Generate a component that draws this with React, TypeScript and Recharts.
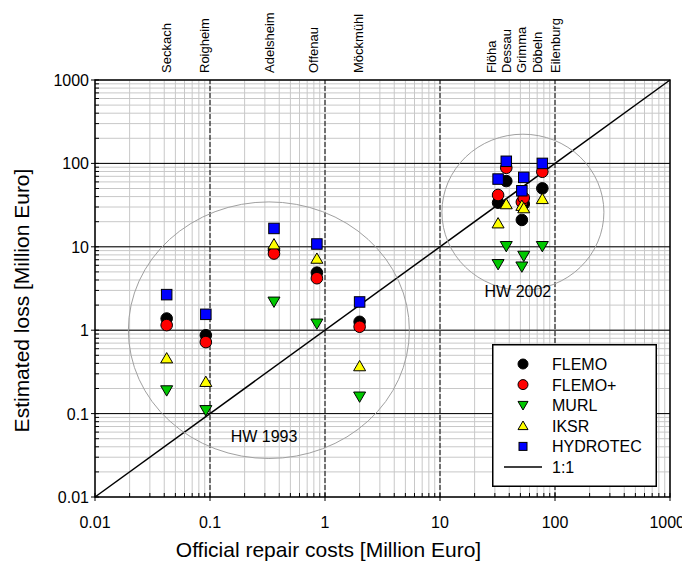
import React from 'react';
import {
  ScatterChart,
  Scatter,
  XAxis,
  YAxis,
  CartesianGrid,
  ReferenceLine,
  ReferenceDot,
  ReferenceArea,
  Legend,
  Label
} from 'recharts';

const FONT = '"Liberation Sans", Arial, sans-serif';

// towns (1993 Neckar flood, 2002 Elbe flood)
const towns = ['Seckach', 'Roigheim', 'Adelsheim', 'Offenau', 'Möckmühl', 'Flöha', 'Dessau', 'Grimma', 'Döbeln', 'Eilenburg'];
// where the town names sit along the top
const townLabelAt = [0.042, 0.09, 0.33, 0.8, 1.95, 28, 38, 51, 70, 100];

// official repair costs [Million Euro]
const repairCosts = [0.042, 0.092, 0.36, 0.85, 2.0, 32, 37.7, 51.5, 53.5, 77.6];

// estimated loss [Million Euro]
const flemo = [1.38, 0.87, 9.1, 4.9, 1.26, 33.8, 61.4, 21, 32.6, 50.2];
const flemoPlus = [1.15, 0.72, 8.3, 4.2, 1.1, 41.8, 88.5, 34.4, 38.5, 79.4];
const murl = [0.19, 0.11, 2.2, 1.2, 0.16, 6.2, 10.2, 5.8, 7.8, 10.2];
const iksr = [0.46, 0.24, 10.7, 7.2, 0.37, 19.1, 32.4, 31, 29, 37.4];
const hydrotec = [2.67, 1.55, 16.6, 10.8, 2.18, 64.9, 106, 47, 68, 100];

const majorTicks = [0.01, 0.1, 1, 10, 100, 1000];
const majorLabels = ['0.01', '0.1', '1', '10', '100', '1000'];
const innerMajors = [0.1, 1, 10, 100];
const steps = [1, 2, 3, 4, 5, 6, 7, 8, 9];
const allTicks = [
  ...majorTicks.slice(0, -1).flatMap(d => steps.map(s => Number((d * s).toPrecision(3)))),
  1000
];

const toSeries = (vals: number[]) => towns.map((t, i) => ({ name: t, x: repairCosts[i], y: vals[i] }));

const Dot = ({ cx, cy, fill, r = 5.8 }: any) => (
  <circle cx={cx} cy={cy} r={r} fill={fill} stroke="#000" strokeWidth={1} />
);
const Square = ({ cx, cy, fill, s = 10.5 }: any) => (
  <rect x={cx - s / 2} y={cy - s / 2} width={s} height={s} fill={fill} stroke="#000" strokeWidth={1} />
);
const TriUp = ({ cx, cy, fill, s = 12 }: any) => (
  <polygon
    points={`${cx - s / 2},${cy + s * 0.38} ${cx + s / 2},${cy + s * 0.38} ${cx},${cy - s * 0.48}`}
    fill={fill}
    stroke="#000"
    strokeWidth={1}
  />
);
const TriDown = ({ cx, cy, fill, s = 12 }: any) => (
  <polygon
    points={`${cx - s / 2},${cy - s * 0.38} ${cx + s / 2},${cy - s * 0.38} ${cx},${cy + s * 0.48}`}
    fill={fill}
    stroke="#000"
    strokeWidth={1}
  />
);

const series = [
  { name: 'FLEMO', vals: flemo, fill: '#000000', Shape: Dot },
  { name: 'FLEMO+', vals: flemoPlus, fill: '#ff0000', Shape: Dot },
  { name: 'MURL', vals: murl, fill: '#00c800', Shape: TriDown },
  { name: 'IKSR', vals: iksr, fill: '#ffff00', Shape: TriUp },
  { name: 'HYDROTEC', vals: hydrotec, fill: '#0000ff', Shape: Square }
];

const XTick = ({ x, y, payload }: any) => {
  const idx = majorTicks.indexOf(payload.value);
  const major = idx >= 0;
  const last = idx === majorTicks.length - 1;
  return (
    <g>
      <line x1={x} x2={x} y1={major ? y + 4 : y} y2={y - 4} stroke="#000" />
      {major && (
        <text
          x={last ? x + 15 : x}
          y={y + 31}
          textAnchor={last ? 'end' : 'middle'}
          fontSize={16}
          fontFamily={FONT}
          fill="#000"
        >
          {majorLabels[idx]}
        </text>
      )}
    </g>
  );
};

const YTick = ({ x, y, payload }: any) => {
  const idx = majorTicks.indexOf(payload.value);
  const major = idx >= 0;
  return (
    <g>
      <line x1={major ? x - 4 : x} x2={x + 4} y1={y} y2={y} stroke="#000" />
      {major && (
        <text x={x - 6} y={y + 6} textAnchor="end" fontSize={16} fontFamily={FONT} fill="#000">
          {majorLabels[idx]}
        </text>
      )}
    </g>
  );
};

const LegendBox = () => (
  <svg width={165} height={143} style={{ display: 'block' }}>
    <rect x={0.75} y={0.75} width={163.5} height={141.5} fill="#fff" stroke="#000" strokeWidth={1.5} />
    {series.map((s, i) => {
      const cy = 20 + i * 20.6;
      const S = s.Shape;
      return (
        <g key={s.name}>
          <S cx={31} cy={cy} fill={s.fill} r={5} s={s.Shape === Square ? 8 : 10} />
          <text x={60} y={cy + 6} fontSize={16} fontFamily={FONT} fill="#000">
            {s.name}
          </text>
        </g>
      );
    })}
    <line x1={12} x2={50} y1={123} y2={123} stroke="#000" strokeWidth={1.5} />
    <text x={60} y={129} fontSize={16} fontFamily={FONT} fill="#000">
      1:1
    </text>
  </svg>
);

export default function App() {
  return (
    <div style={{ fontFamily: FONT }}>
      <style>{'.recharts-surface { overflow: visible; }'}</style>
      <ScatterChart width={682} height={555} margin={{ top: 72, right: 20, bottom: 36, left: 27 }}>
        <CartesianGrid stroke="#c8c8c8" strokeWidth={1} />
        <XAxis
          type="number"
          dataKey="x"
          scale="log"
          domain={[0.01, 1000]}
          allowDataOverflow
          ticks={allTicks}
          interval={0}
          height={30}
          tickSize={0}
          tickMargin={0}
          axisLine={false}
          tick={<XTick />}
        >
          <Label
            content={({ viewBox }: any) => (
              <text
                x={viewBox.x + viewBox.width / 2 - 54}
                y={viewBox.y + 60}
                textAnchor="middle"
                fontSize={21}
                fontFamily={FONT}
                fill="#000"
              >
                Official repair costs [Million Euro]
              </text>
            )}
          />
        </XAxis>
        <YAxis
          type="number"
          dataKey="y"
          scale="log"
          domain={[0.01, 1000]}
          allowDataOverflow
          ticks={allTicks}
          interval={0}
          width={60}
          tickSize={0}
          tickMargin={0}
          axisLine={false}
          tick={<YTick />}
        >
          <Label
            content={({ viewBox }: any) => {
              const cx = 21;
              const cy = viewBox.y + viewBox.height / 2 + 12;
              return (
                <text
                  x={cx}
                  y={cy}
                  transform={`rotate(-90, ${cx}, ${cy})`}
                  textAnchor="middle"
                  fontSize={21}
                  fontFamily={FONT}
                  fill="#000"
                >
                  Estimated loss [Million Euro]
                </text>
              );
            }}
          />
        </YAxis>

        {innerMajors.map(v => (
          <ReferenceLine key={`h${v}`} y={v} stroke="#000" strokeWidth={1} />
        ))}
        {innerMajors.map(v => (
          <ReferenceLine key={`v${v}`} x={v} stroke="#000" strokeWidth={1} strokeDasharray="5 2" />
        ))}
        <ReferenceArea x1={0.01} x2={1000} y1={0.01} y2={1000} fill="none" stroke="#000" strokeWidth={1.5} />

        {/* town names above the plot */}
        {townLabelAt.map((v, i) => (
          <ReferenceDot
            key={towns[i]}
            x={v}
            y={1000}
            shape={(p: any) => (
              <text
                x={p.cx + 4.5}
                y={p.cy - 7}
                transform={`rotate(-90, ${p.cx + 4.5}, ${p.cy - 7})`}
                textAnchor="start"
                fontSize={13}
                fontFamily={FONT}
                fill="#000"
              >
                {towns[i]}
              </text>
            )}
          />
        ))}

        <ReferenceDot
          x={0.325}
          y={1}
          shape={(p: any) => <ellipse cx={p.cx} cy={p.cy} rx={140.5} ry={128.3} fill="none" stroke="#a0a0a0" strokeWidth={1} />}
        />
        <ReferenceDot
          x={52.6}
          y={26}
          shape={(p: any) => <ellipse cx={p.cx} cy={p.cy} rx={81} ry={78} fill="none" stroke="#a0a0a0" strokeWidth={1} />}
        />
        <ReferenceDot
          x={0.295}
          y={0.054}
          shape={(p: any) => (
            <text x={p.cx} y={p.cy + 6} textAnchor="middle" fontSize={16} fontFamily={FONT} fill="#000">
              HW 1993
            </text>
          )}
        />
        <ReferenceDot
          x={47.6}
          y={2.97}
          shape={(p: any) => (
            <text x={p.cx} y={p.cy + 6} textAnchor="middle" fontSize={16} fontFamily={FONT} fill="#000">
              HW 2002
            </text>
          )}
        />

        <ReferenceLine
          segment={[
            { x: 0.01, y: 0.01 },
            { x: 1000, y: 1000 }
          ]}
          stroke="#000"
          strokeWidth={1.5}
        />

        {series.map(s => (
          <Scatter
            key={s.name}
            name={s.name}
            data={toSeries(s.vals)}
            fill={s.fill}
            isAnimationActive={false}
            shape={(p: any) => <s.Shape cx={p.cx} cy={p.cy} fill={s.fill} />}
          />
        ))}

        <Legend
          layout="vertical"
          align="center"
          verticalAlign="middle"
          width={165}
          height={143}
          wrapperStyle={{ left: 484, top: 336, width: 165, height: 143 }}
          content={() => <LegendBox />}
        />
      </ScatterChart>
    </div>
  );
}
